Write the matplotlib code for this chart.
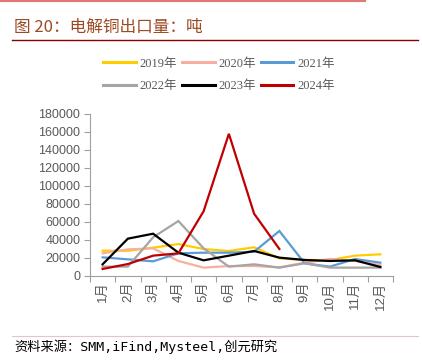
import matplotlib
matplotlib.use("Agg")
import matplotlib.pyplot as plt
from matplotlib.lines import Line2D

months = ["1月", "2月", "3月", "4月", "5月", "6月", "7月", "8月", "9月", "10月", "11月", "12月"]
y2019 = [28100, 28000, 31500, 35500, 30000, 27800, 31900, 19600, 17800, 17800, 22600, 24100]
y2020 = [25200, 29600, 30700, 16700, 9300, 11100, 11100, 9600, 14800, 18900, 16700, 12200]
y2021 = [20700, 18500, 16300, 25200, 25900, 25900, 27000, 50000, 14100, 10400, 18900, 14800]
y2022 = [10400, 10400, 43000, 61100, 30700, 10400, 13000, 9300, 14100, 9300, 9300, 9300]
y2023 = [13000, 41500, 47000, 25900, 17400, 22600, 27800, 20400, 17800, 16700, 17400, 10000]
y2024 = [7800, 13300, 22600, 25200, 72000, 158000, 69200, 30000]

series = [
    ("2019年", y2019, "#FFCC00"),
    ("2020年", y2020, "#F8AFA0"),
    ("2021年", y2021, "#5B9BD5"),
    ("2022年", y2022, "#A5A5A5"),
    ("2023年", y2023, "#000000"),
    ("2024年", y2024, "#C00000"),
]

W, H = 422, 364
fig = plt.figure(figsize=(W / 100, H / 100), dpi=100)

ax = fig.add_axes([90 / W, (H - 276) / H, 303 / W, 162 / H])
for name, vals, col in series:
    xs = [i + 0.5 for i in range(len(vals))]
    ax.plot(xs, vals, color=col, lw=1.6, label=name, solid_joinstyle="miter")

ax.set_xlim(0, 12)
ax.set_ylim(0, 180000)
ax.set_yticks(range(0, 180001, 20000))
ax.set_yticklabels([str(v) for v in range(0, 180001, 20000)],
                   fontsize=9, color="#595959", family="Liberation Sans")
ax.set_xticks(range(0, 13))
ax.set_xticklabels([])
ax.set_xticks([i + 0.5 for i in range(12)], minor=True)
ax.set_xticklabels(months, minor=True, rotation=90, fontsize=9.5, color="#595959",
                   family=["Liberation Sans", "Noto Sans CJK SC"])
ax.tick_params(axis="x", which="major", length=4, color="#A0A0A0", direction="out")
ax.tick_params(axis="x", which="minor", length=0, pad=4)
ax.tick_params(axis="y", length=4, color="#A0A0A0", direction="out", pad=3)
for s in ["top", "right"]:
    ax.spines[s].set_visible(False)
for s in ["left", "bottom"]:
    ax.spines[s].set_color("#A0A0A0")
    ax.spines[s].set_linewidth(0.8)

# legend: rows 2019/2020/2021 then 2022/2023/2024 (matplotlib fills column-wise)
order = [0, 3, 1, 4, 2, 5]
handles = [Line2D([0], [0], color=series[i][2], lw=2.2) for i in order]
labels = [series[i][0] for i in order]
fig.legend(handles, labels, ncol=3, frameon=False, loc="center",
           bbox_to_anchor=(219 / W, 1 - 75 / H),
           prop={"family": ["Liberation Serif", "Noto Sans CJK SC"], "size": 9},
           labelcolor="#595959", handlelength=2.6, handletextpad=0.3,
           columnspacing=0.4, labelspacing=0.85)

# decorations
fig.add_artist(Line2D([0, 365 / W], [1 - 0.5 / H, 1 - 0.5 / H], color="#E07A70", lw=1.5))
fig.text(14 / W, 1 - 27 / H, "图 20：电解铜出口量：吨", fontsize=12,
         color="#9C4A22", va="center", ha="left", family=["Noto Sans CJK SC"])
fig.add_artist(Line2D([12 / W, 418 / W], [1 - 40 / H, 1 - 40 / H], color="#8B0000", lw=1.0))
fig.add_artist(Line2D([12 / W, 418 / W], [1 - 336 / H, 1 - 336 / H], color="#E8C4C4", lw=0.8))
fig.text(14 / W, 1 - 347 / H, "资料来源：SMM,iFind,Mysteel,创元研究", fontsize=9.5,
         color="#000000", va="center", ha="left",
         family=["DejaVu Sans Mono", "Noto Sans CJK SC"])

fig.savefig("out.png", dpi=100)
